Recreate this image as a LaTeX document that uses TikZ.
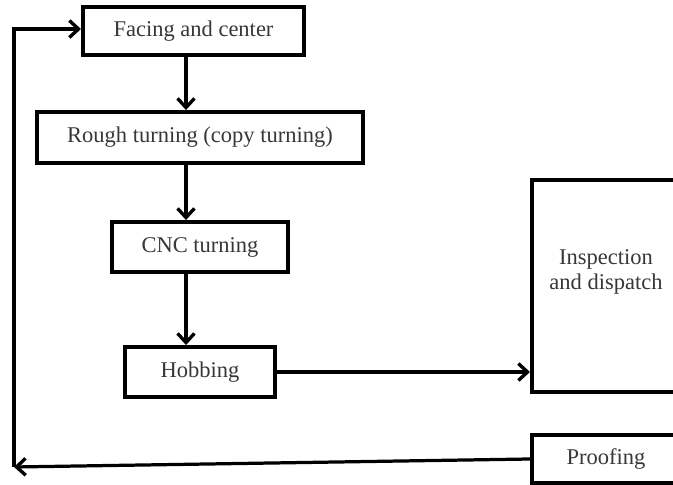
\documentclass[tikz,border=0pt]{standalone}
\usepackage{fontspec}
\setmainfont{Liberation Serif}
\usetikzlibrary{arrows.meta}
\usetikzlibrary{calc}
\usetikzlibrary{positioning}

\definecolor{txtgray}{RGB}{55,55,55}

\begin{document}
\begin{tikzpicture}[x=0.025cm,y=-0.025cm,
  >={Straight Barb[length=6.5pt,width=12pt,line width=2.4pt]},
  box/.style={draw,line width=2.8pt,inner sep=0pt,align=center,
    text=txtgray,font=\fontsize{16}{18}\selectfont},
  flow/.style={->,line width=2.3pt}]
  \useasboundingbox (0,0) rectangle (673,485);

  % Bearbeitungsschritte
  \node[box,minimum width=5.525cm,minimum height=1.2cm]   (face)  at (193.5,31)  {Facing and center};
  \node[box,minimum width=8.15cm,minimum height=1.275cm]  (rough) at (200,137.5) {Rough turning (copy turning)};
  \node[box,minimum width=4.4cm,minimum height=1.25cm]    (cnc)   at (200,247)   {CNC turning};
  \node[box,minimum width=3.75cm,minimum height=1.25cm]   (hob)   at (200,372)   {Hobbing};
  \node[box,minimum width=3.7cm,minimum height=5.3cm]     (insp)  at (606,286)   {Inspection\\and dispatch\\[5pt]};
  \node[box,minimum width=3.7cm,minimum height=1.2cm]     (proof) at (606,459)   {Proofing};

  \coordinate (ax) at (186,0);
  \coordinate (cl) at (14,467);

  % senkrechte Pfeile
  \foreach \a/\b in {face/rough,rough/cnc,cnc/hob}
    \draw[flow] (\a.south -| ax) -- (\b.north -| ax);

  \draw[flow] (hob.east) -- (hob.east -| insp.west);

  % Rueckfuehrung
  \draw[flow] (proof.west) -- (cl);
  \draw[flow] (cl) -- (cl |- 0,29) -- (face.west |- 0,29);
\end{tikzpicture}
\end{document}
